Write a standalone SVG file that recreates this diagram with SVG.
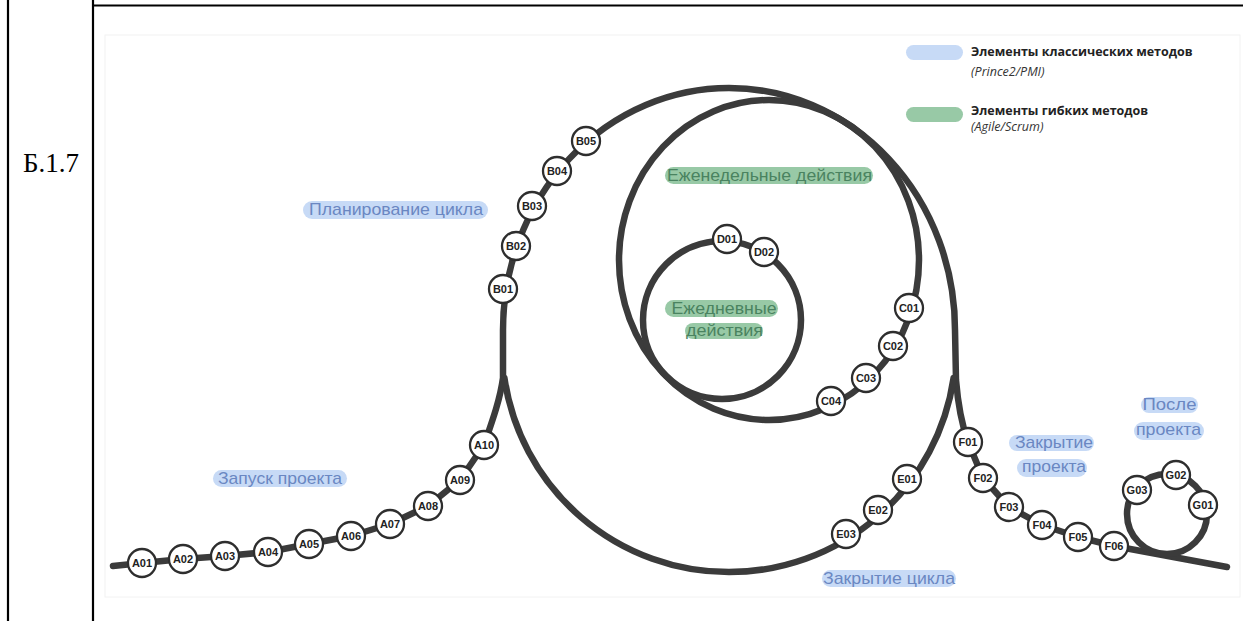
<svg xmlns="http://www.w3.org/2000/svg" width="1243" height="621" viewBox="0 0 1243 621">
  <style>
    .rule { stroke: #000; stroke-width: 2.2; fill: none; }
    .track { fill: none; stroke: #3b3b3b; stroke-width: 6.5; stroke-linecap: round; stroke-linejoin: round; }
    .node circle { fill: #fff; stroke: #2e2e2e; stroke-width: 2.3; }
    .node text { font-family: "Liberation Sans", Arial, sans-serif; font-weight: bold; font-size: 11px; fill: #222; text-anchor: middle; }
    .pill-blue { fill: #c7daf6; }
    .pill-green { fill: #98c9a6; }
    .lbl { font-family: "Liberation Sans", Arial, sans-serif; font-size: 17px; text-anchor: middle; }
    .lbl-blue { fill: #6a87c2; }
    .lbl-green { fill: #4a8360; }
    .legend-title { font-family: "Open Sans", "Noto Sans", sans-serif; font-weight: bold; font-size: 12.5px; fill: #222; }
    .legend-sub { font-family: "Open Sans", "Noto Sans", sans-serif; font-style: italic; font-size: 12.5px; fill: #333; }
  </style>

  <rect width="1243" height="621" fill="#fff"/>

  <!-- table cell borders -->
  <g id="table">
    <line class="rule" x1="8" y1="0" x2="8" y2="621"/>
    <line class="rule" x1="93" y1="0" x2="93" y2="621"/>
    <line class="rule" x1="93" y1="5.5" x2="1243" y2="5.5"/>
    <text x="23" y="172" font-family="Liberation Serif, 'Times New Roman', serif" font-size="27" fill="#000">Б.1.7</text>
  </g>

  <!-- faint frame of the embedded figure -->
  <rect x="105" y="35" width="1135" height="562" fill="none" stroke="#f2f2f2" stroke-width="1"/>

  <!-- legend -->
  <g id="legend">
    <rect class="pill-blue" x="906" y="45" width="57" height="15" rx="7.5"/>
    <text class="legend-title" x="971" y="56">Элементы классических методов</text>
    <text class="legend-sub" x="971" y="76">(Prince2/PMI)</text>
    <rect class="pill-green" x="906" y="107" width="57" height="15" rx="7.5"/>
    <text class="legend-title" x="971" y="115">Элементы гибких методов</text>
    <text class="legend-sub" x="971" y="131">(Agile/Scrum)</text>
  </g>

  <!-- connectors: project track and cycle loops -->
  <g id="connectors">
    <path class="track" d="M113,566 L142,563 L183,559 L225,556 L268,552 L309,544 L351,536 L390,524 L428,506 L460,480 L484,445 C492,422 500,400 503,378 L503,330 A226,242 0 0 1 955,330 L956,380 C958,405 962,425 968,442 L983,478 L1009,507 L1042,525 L1078,537 L1114,546 L1227,567"/>
    <path class="track" d="M504.4,378 A227,227 0 0 0 953.6,378"/>
    <ellipse class="track" cx="769" cy="260" rx="150" ry="160"/>
    <circle class="track" cx="722" cy="320" r="79"/>
    <circle class="track" cx="1167" cy="514" r="40"/>
  </g>

  <!-- phase labels -->
  <g id="label-launch">
    <rect class="pill-blue" x="213" y="470" width="134" height="17" rx="8.5"/>
    <text class="lbl lbl-blue" x="280" y="483.5" textLength="124" lengthAdjust="spacingAndGlyphs">Запуск проекта</text>
  </g>
  <g id="label-planning">
    <rect class="pill-blue" x="303" y="201" width="185" height="18" rx="9"/>
    <text class="lbl lbl-blue" x="396" y="215" textLength="174" lengthAdjust="spacingAndGlyphs">Планирование цикла</text>
  </g>
  <g id="label-weekly">
    <rect class="pill-green" x="665" y="167" width="208" height="17" rx="8.5"/>
    <text class="lbl lbl-green" x="769.5" y="181" textLength="205" lengthAdjust="spacingAndGlyphs">Еженедельные действия</text>
  </g>
  <g id="label-daily">
    <rect class="pill-green" x="665" y="300" width="113" height="17" rx="8.5"/>
    <text class="lbl lbl-green" x="724" y="314" textLength="105" lengthAdjust="spacingAndGlyphs">Ежедневные</text>
    <rect class="pill-green" x="685" y="323" width="78" height="16" rx="8"/>
    <text class="lbl lbl-green" x="724.5" y="336" textLength="77" lengthAdjust="spacingAndGlyphs">действия</text>
  </g>
  <g id="label-cycle-close">
    <rect class="pill-blue" x="822" y="570" width="134" height="17" rx="8.5"/>
    <text class="lbl lbl-blue" x="889" y="584" textLength="132" lengthAdjust="spacingAndGlyphs">Закрытие цикла</text>
  </g>
  <g id="label-project-close">
    <rect class="pill-blue" x="1009" y="435" width="85" height="16" rx="8"/>
    <text class="lbl lbl-blue" x="1054" y="448" textLength="78" lengthAdjust="spacingAndGlyphs">Закрытие</text>
    <rect class="pill-blue" x="1017" y="459" width="70" height="18" rx="9"/>
    <text class="lbl lbl-blue" x="1054" y="472" textLength="64" lengthAdjust="spacingAndGlyphs">проекта</text>
  </g>
  <g id="label-after">
    <rect class="pill-blue" x="1141" y="397" width="57" height="16" rx="8"/>
    <text class="lbl lbl-blue" x="1169.5" y="410" textLength="54" lengthAdjust="spacingAndGlyphs">После</text>
    <rect class="pill-blue" x="1134" y="422" width="70" height="18" rx="9"/>
    <text class="lbl lbl-blue" x="1168.5" y="435" textLength="65" lengthAdjust="spacingAndGlyphs">проекта</text>
  </g>

  <!-- stations -->
  <g id="A01" class="node"><circle cx="142" cy="563" r="14"/><text x="142" y="567">A01</text></g>
  <g id="A02" class="node"><circle cx="183" cy="559" r="14"/><text x="183" y="563">A02</text></g>
  <g id="A03" class="node"><circle cx="225" cy="556" r="14"/><text x="225" y="560">A03</text></g>
  <g id="A04" class="node"><circle cx="268" cy="552" r="14"/><text x="268" y="556">A04</text></g>
  <g id="A05" class="node"><circle cx="309" cy="544" r="14"/><text x="309" y="548">A05</text></g>
  <g id="A06" class="node"><circle cx="351" cy="536" r="14"/><text x="351" y="540">A06</text></g>
  <g id="A07" class="node"><circle cx="390" cy="524" r="14"/><text x="390" y="528">A07</text></g>
  <g id="A08" class="node"><circle cx="428" cy="506" r="14"/><text x="428" y="510">A08</text></g>
  <g id="A09" class="node"><circle cx="460" cy="480" r="14"/><text x="460" y="484">A09</text></g>
  <g id="A10" class="node"><circle cx="484" cy="445" r="14"/><text x="484" y="449">A10</text></g>

  <g id="B01" class="node"><circle cx="503" cy="289" r="14"/><text x="503" y="293">B01</text></g>
  <g id="B02" class="node"><circle cx="516" cy="246" r="14"/><text x="516" y="250">B02</text></g>
  <g id="B03" class="node"><circle cx="532" cy="206" r="14"/><text x="532" y="210">B03</text></g>
  <g id="B04" class="node"><circle cx="557" cy="171" r="14"/><text x="557" y="175">B04</text></g>
  <g id="B05" class="node"><circle cx="586" cy="141" r="14"/><text x="586" y="145">B05</text></g>

  <g id="C01" class="node"><circle cx="909" cy="308" r="14"/><text x="909" y="312">C01</text></g>
  <g id="C02" class="node"><circle cx="893" cy="346" r="14"/><text x="893" y="350">C02</text></g>
  <g id="C03" class="node"><circle cx="866" cy="378" r="14"/><text x="866" y="382">C03</text></g>
  <g id="C04" class="node"><circle cx="831" cy="401" r="14"/><text x="831" y="405">C04</text></g>

  <g id="D01" class="node"><circle cx="727" cy="239" r="14"/><text x="727" y="243">D01</text></g>
  <g id="D02" class="node"><circle cx="764" cy="252" r="14"/><text x="764" y="256">D02</text></g>

  <g id="E01" class="node"><circle cx="907" cy="479" r="14"/><text x="907" y="483">E01</text></g>
  <g id="E02" class="node"><circle cx="878" cy="510" r="14"/><text x="878" y="514">E02</text></g>
  <g id="E03" class="node"><circle cx="846" cy="534" r="14"/><text x="846" y="538">E03</text></g>

  <g id="F01" class="node"><circle cx="968" cy="442" r="14"/><text x="968" y="446">F01</text></g>
  <g id="F02" class="node"><circle cx="983" cy="478" r="14"/><text x="983" y="482">F02</text></g>
  <g id="F03" class="node"><circle cx="1009" cy="507" r="14"/><text x="1009" y="511">F03</text></g>
  <g id="F04" class="node"><circle cx="1042" cy="525" r="14"/><text x="1042" y="529">F04</text></g>
  <g id="F05" class="node"><circle cx="1078" cy="537" r="14"/><text x="1078" y="541">F05</text></g>
  <g id="F06" class="node"><circle cx="1114" cy="546" r="14"/><text x="1114" y="550">F06</text></g>

  <g id="G01" class="node"><circle cx="1203" cy="505" r="14"/><text x="1203" y="509">G01</text></g>
  <g id="G02" class="node"><circle cx="1176" cy="475" r="14"/><text x="1176" y="479">G02</text></g>
  <g id="G03" class="node"><circle cx="1137" cy="490" r="14"/><text x="1137" y="494">G03</text></g>
</svg>
